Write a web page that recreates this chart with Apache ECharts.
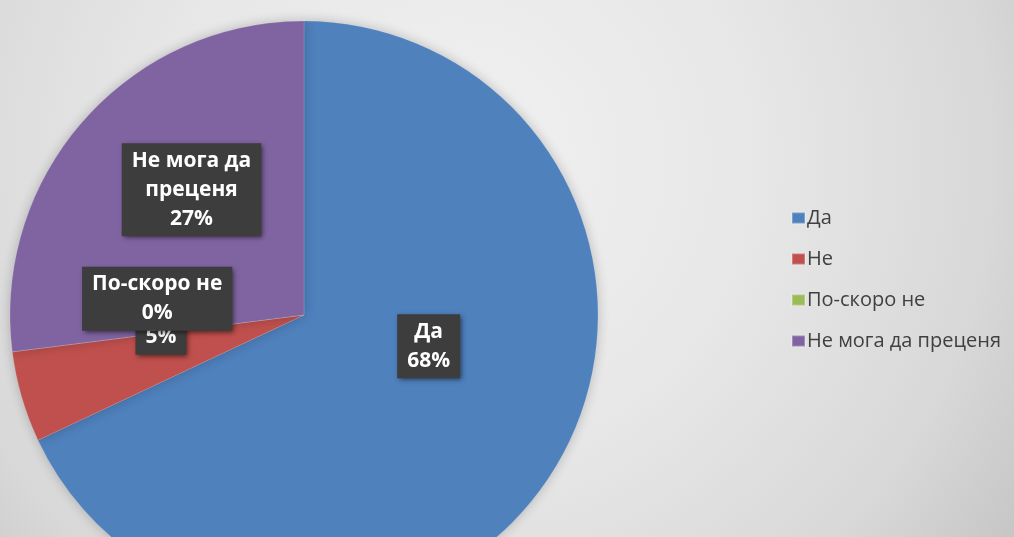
<!DOCTYPE html>
<html>
<head>
<meta charset="utf-8">
<script src="https://cdn.jsdelivr.net/npm/echarts@6/dist/echarts.min.js"></script>
<style>
  html, body { margin: 0; padding: 0; }
  #chart { width: 1014px; height: 537px; }
</style>
</head>
<body>
<div id="chart"></div>
<script>
// категории и стойности (в %)
var categories = ['Да', 'Не', 'По-скоро не', 'Не мога да преценя'];
var values = [68, 5, 0, 27];
var labelTexts = ['Да', 'Не', 'По-скоро не', 'Не мога да\nпреценя'];
var colors = ['#4f81bd', '#c0504d', '#9bbb59', '#8064a2'];

// отместване на етикетите спрямо позицията "inside"
var labelShift = [[-2, -49], [1, -34], [2, -35], [0, -26]];

var chart = echarts.init(document.getElementById('chart'));

var data = [];
for (var i = 0; i < categories.length; i++) {
    data.push({
        name: categories[i],
        value: values[i],
        itemStyle: { color: colors[i] }
    });
}

var option = {
    backgroundColor: {
        type: 'radial', x: 0.45, y: 0.3, r: 1.25,
        colorStops: [
            { offset: 0, color: '#f1f1f1' },
            { offset: 0.45, color: '#e7e7e7' },
            { offset: 0.8, color: '#d8d8d8' },
            { offset: 1, color: '#c6c6c6' }
        ]
    },
    animation: false,
    legend: {
        orient: 'vertical',
        left: 786,
        top: 203,
        itemWidth: 13,
        itemHeight: 11,
        itemGap: 21,
        icon: 'rect',
        textStyle: {
            color: '#404040',
            fontSize: 20,
            lineHeight: 20,
            fontFamily: 'Open Sans',
            padding: [0, 0, 0, -3]
        },
        data: categories
    },
    series: [
        {
            type: 'pie',
            center: [304, 315],
            radius: 294,
            startAngle: 90,
            clockwise: true,
            avoidLabelOverlap: false,
            itemStyle: {
                borderColor: 'rgba(255,255,255,0.25)',
                borderWidth: 0.5,
                shadowColor: 'rgba(0,0,0,0.22)',
                shadowBlur: 12
            },
            label: {
                show: true,
                position: 'inside',
                formatter: function (p) {
                    return labelTexts[p.dataIndex] + '\n' + p.value + '%';
                },
                color: '#ffffff',
                fontFamily: 'Open Sans',
                fontWeight: 'bold',
                fontSize: 21,
                lineHeight: 29,
                align: 'center',
                backgroundColor: '#3d3d3d',
                padding: [3, 10, 3, 10],
                shadowColor: 'rgba(0,0,0,0.55)',
                shadowBlur: 5,
                shadowOffsetX: 2,
                shadowOffsetY: 2
            },
            labelLine: { show: false },
            labelLayout: function (params) {
                var s = labelShift[params.dataIndex];
                return { dx: s[0], dy: s[1] };
            },
            emphasis: { disabled: true },
            data: data
        }
    ]
};

chart.setOption(option);
</script>
</body>
</html>
